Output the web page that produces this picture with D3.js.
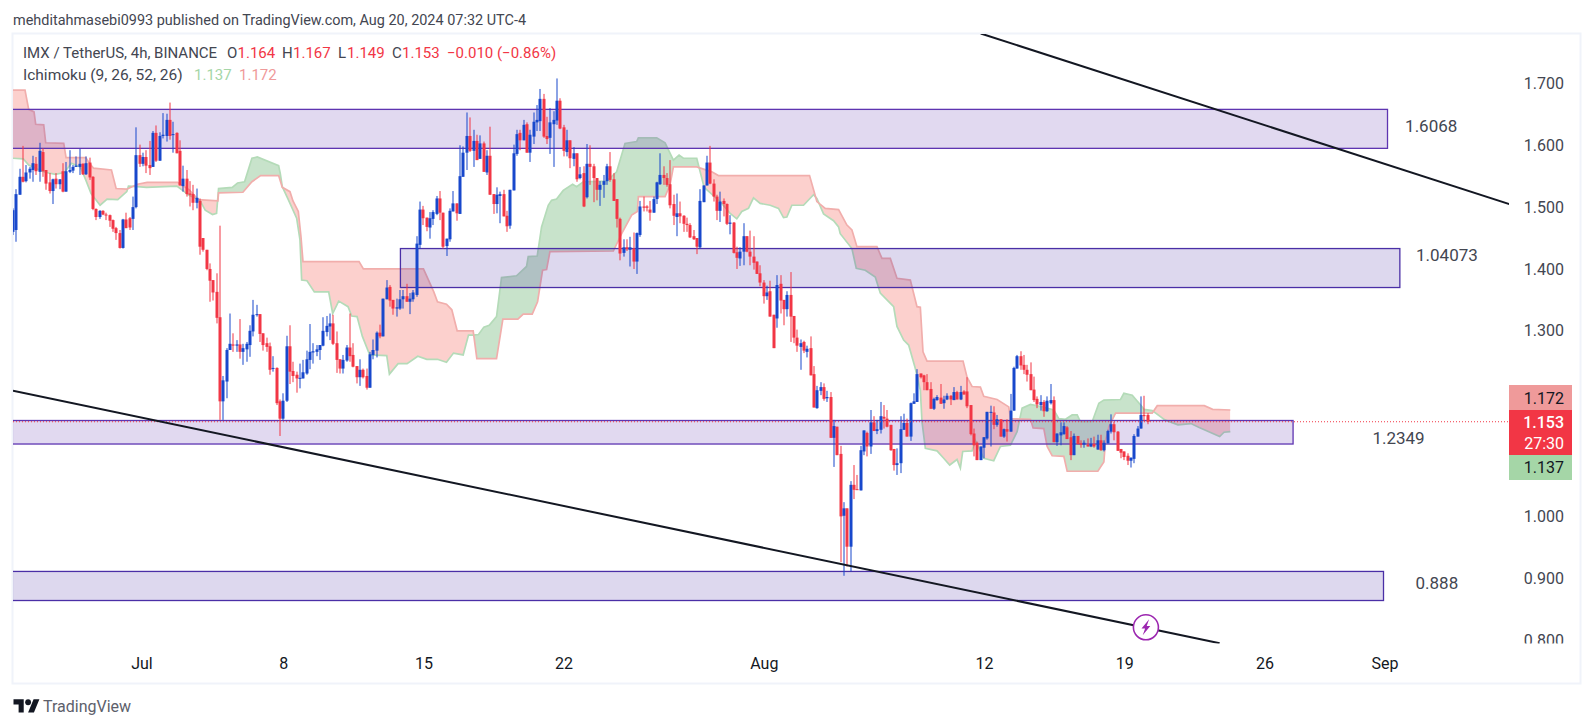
<!DOCTYPE html>
<html>
<head>
<meta charset="utf-8">
<script src="https://cdn.jsdelivr.net/npm/d3@7"></script>
<style>
  html, body { margin: 0; padding: 0; background: #fff; }
  svg { display: block; }
  text { font-family: Roboto, sans-serif; }
</style>
</head>
<body>
<div id="chart"></div>
<script>
// 4h candles, bar 0 is the leftmost one: open, high, low, close
const candles = [
  [1.460,1.498,1.455,1.495],
  [1.463,1.529,1.444,1.521],[1.520,1.562,1.520,1.549],[1.549,1.599,1.540,1.541],[1.542,1.568,1.540,1.556],
  [1.556,1.565,1.546,1.562],[1.560,1.583,1.541,1.571],[1.570,1.581,1.552,1.558],[1.557,1.604,1.541,1.591],
  [1.589,1.595,1.549,1.558],[1.560,1.560,1.528,1.538],[1.540,1.555,1.522,1.526],[1.526,1.546,1.505,1.545],
  [1.546,1.555,1.530,1.537],[1.537,1.545,1.529,1.545],[1.558,1.571,1.524,1.525],[1.525,1.573,1.525,1.558],
  [1.557,1.592,1.555,1.560],[1.559,1.568,1.555,1.565],[1.565,1.582,1.565,1.567],[1.565,1.594,1.552,1.570],
  [1.570,1.571,1.552,1.553],[1.553,1.582,1.552,1.571],[1.572,1.580,1.544,1.548],[1.549,1.550,1.495,1.497],
  [1.497,1.498,1.479,1.484],[1.484,1.495,1.481,1.494],[1.494,1.495,1.487,1.488],[1.488,1.491,1.479,1.487],
  [1.487,1.488,1.468,1.478],[1.479,1.480,1.460,1.465],[1.466,1.468,1.447,1.458],[1.458,1.463,1.433,1.434],
  [1.434,1.481,1.433,1.480],[1.480,1.491,1.466,1.466],[1.482,1.484,1.463,1.467],[1.481,1.517,1.463,1.500],
  [1.500,1.629,1.498,1.584],[1.584,1.601,1.565,1.570],[1.570,1.588,1.566,1.581],[1.581,1.592,1.555,1.567],
  [1.568,1.607,1.552,1.563],[1.565,1.623,1.565,1.620],[1.620,1.632,1.573,1.575],[1.575,1.621,1.575,1.615],
  [1.615,1.652,1.611,1.617],[1.615,1.651,1.606,1.641],[1.641,1.669,1.609,1.615],[1.617,1.638,1.588,1.618],
  [1.620,1.621,1.587,1.587],[1.591,1.608,1.535,1.535],[1.534,1.567,1.525,1.546],[1.546,1.560,1.517,1.521],
  [1.522,1.542,1.501,1.520],[1.521,1.536,1.495,1.507],[1.507,1.530,1.498,1.515],[1.510,1.514,1.423,1.436],
  [1.450,1.450,1.428,1.431],[1.431,1.431,1.398,1.400],[1.400,1.409,1.347,1.381],[1.382,1.382,1.349,1.362],
  [1.363,1.393,1.312,1.321],[1.322,1.470,1.156,1.186],[1.186,1.227,1.156,1.220],[1.218,1.272,1.191,1.269],
  [1.269,1.328,1.269,1.279],[1.278,1.296,1.266,1.276],[1.276,1.285,1.266,1.278],[1.278,1.319,1.255,1.266],
  [1.266,1.279,1.245,1.272],[1.270,1.282,1.250,1.279],[1.277,1.309,1.258,1.300],[1.299,1.350,1.291,1.326],
  [1.326,1.342,1.323,1.327],[1.327,1.327,1.282,1.295],[1.296,1.296,1.268,1.277],[1.280,1.289,1.266,1.274],
  [1.275,1.281,1.229,1.237],[1.239,1.259,1.234,1.240],[1.240,1.241,1.180,1.183],[1.186,1.189,1.130,1.158],
  [1.158,1.199,1.156,1.187],[1.187,1.292,1.185,1.275],[1.275,1.309,1.214,1.234],[1.235,1.250,1.217,1.227],
  [1.229,1.234,1.200,1.223],[1.223,1.247,1.207,1.224],[1.223,1.253,1.223,1.233],[1.231,1.268,1.229,1.254],
  [1.253,1.311,1.238,1.266],[1.265,1.280,1.247,1.267],[1.266,1.277,1.259,1.270],[1.269,1.277,1.253,1.277],
  [1.276,1.322,1.275,1.300],[1.298,1.324,1.291,1.308],[1.307,1.328,1.285,1.312],[1.312,1.326,1.277,1.279],
  [1.280,1.299,1.232,1.253],[1.254,1.254,1.231,1.239],[1.239,1.261,1.231,1.253],[1.252,1.277,1.250,1.273],
  [1.273,1.328,1.250,1.259],[1.261,1.280,1.241,1.242],[1.243,1.243,1.215,1.225],[1.225,1.254,1.211,1.237],
  [1.237,1.239,1.223,1.225],[1.227,1.239,1.205,1.208],[1.208,1.266,1.208,1.262],[1.261,1.286,1.254,1.269],
  [1.268,1.299,1.257,1.297],[1.297,1.310,1.288,1.291],[1.291,1.352,1.291,1.352],[1.351,1.382,1.351,1.370],
  [1.371,1.374,1.339,1.349],[1.350,1.350,1.326,1.336],[1.336,1.352,1.323,1.338],[1.336,1.366,1.334,1.351],
  [1.351,1.366,1.336,1.356],[1.356,1.376,1.347,1.347],[1.347,1.361,1.327,1.352],[1.351,1.366,1.347,1.362],
  [1.358,1.453,1.355,1.441],[1.439,1.509,1.433,1.496],[1.496,1.502,1.471,1.482],[1.483,1.483,1.461,1.468],
  [1.467,1.492,1.449,1.482],[1.481,1.495,1.471,1.492],[1.489,1.518,1.487,1.514],[1.514,1.526,1.479,1.491],
  [1.491,1.491,1.433,1.436],[1.437,1.449,1.421,1.449],[1.448,1.498,1.444,1.494],[1.493,1.526,1.493,1.506],
  [1.506,1.506,1.478,1.490],[1.489,1.600,1.489,1.550],[1.549,1.598,1.549,1.588],[1.588,1.653,1.560,1.615],
  [1.615,1.645,1.589,1.591],[1.591,1.625,1.565,1.607],[1.607,1.617,1.576,1.576],[1.578,1.616,1.578,1.603],
  [1.603,1.606,1.557,1.557],[1.556,1.592,1.552,1.583],[1.583,1.630,1.520,1.520],[1.521,1.521,1.489,1.505],
  [1.505,1.532,1.490,1.520],[1.518,1.525,1.474,1.521],[1.521,1.528,1.485,1.485],[1.486,1.494,1.460,1.469],
  [1.470,1.528,1.465,1.528],[1.527,1.601,1.527,1.587],[1.586,1.625,1.583,1.618],[1.620,1.625,1.592,1.608],
  [1.608,1.641,1.608,1.633],[1.634,1.637,1.588,1.588],[1.588,1.625,1.573,1.617],[1.614,1.653,1.602,1.638],
  [1.637,1.665,1.623,1.641],[1.639,1.691,1.623,1.675],[1.675,1.683,1.612,1.614],[1.615,1.646,1.602,1.610],
  [1.612,1.660,1.586,1.637],[1.634,1.655,1.565,1.641],[1.640,1.708,1.633,1.672],[1.672,1.676,1.626,1.627],
  [1.629,1.633,1.582,1.591],[1.589,1.625,1.582,1.608],[1.608,1.608,1.563,1.579],[1.578,1.597,1.566,1.587],
  [1.587,1.587,1.541,1.545],[1.547,1.565,1.545,1.553],[1.555,1.566,1.500,1.501],[1.516,1.602,1.514,1.570],
  [1.570,1.600,1.536,1.565],[1.566,1.570,1.508,1.547],[1.547,1.547,1.511,1.528],[1.528,1.542,1.502,1.536],
  [1.536,1.552,1.515,1.542],[1.542,1.570,1.536,1.566],[1.566,1.589,1.541,1.544],[1.545,1.555,1.510,1.510],
  [1.513,1.513,1.467,1.481],[1.481,1.483,1.414,1.425],[1.426,1.448,1.420,1.435],[1.435,1.448,1.429,1.432],
  [1.431,1.452,1.404,1.435],[1.433,1.459,1.400,1.412],[1.412,1.459,1.392,1.458],[1.455,1.510,1.452,1.501],
  [1.501,1.517,1.493,1.499],[1.501,1.503,1.493,1.499],[1.496,1.510,1.478,1.491],[1.491,1.517,1.491,1.513],
  [1.513,1.541,1.505,1.540],[1.537,1.587,1.536,1.552],[1.552,1.566,1.536,1.547],[1.547,1.555,1.533,1.536],
  [1.537,1.576,1.498,1.503],[1.505,1.520,1.471,1.486],[1.484,1.522,1.453,1.490],[1.490,1.509,1.474,1.485],
  [1.486,1.487,1.460,1.473],[1.473,1.483,1.460,1.471],[1.471,1.474,1.450,1.451],[1.453,1.463,1.447,1.448],
  [1.450,1.450,1.424,1.436],[1.435,1.529,1.433,1.510],[1.508,1.535,1.508,1.535],[1.535,1.583,1.535,1.572],
  [1.572,1.599,1.537,1.538],[1.538,1.545,1.509,1.517],[1.517,1.520,1.479,1.494],[1.494,1.525,1.476,1.509],
  [1.510,1.514,1.485,1.505],[1.505,1.506,1.471,1.473],[1.473,1.487,1.456,1.475],[1.475,1.476,1.425,1.426],
  [1.427,1.436,1.400,1.418],[1.417,1.435,1.405,1.428],[1.428,1.474,1.406,1.453],[1.453,1.453,1.427,1.428],
  [1.428,1.462,1.406,1.420],[1.420,1.453,1.399,1.410],[1.412,1.412,1.392,1.392],[1.393,1.406,1.372,1.378],
  [1.378,1.382,1.344,1.356],[1.356,1.373,1.350,1.362],[1.364,1.381,1.323,1.323],[1.326,1.326,1.272,1.272],
  [1.320,1.390,1.305,1.374],[1.376,1.390,1.328,1.349],[1.350,1.350,1.309,1.335],[1.335,1.364,1.323,1.358],
  [1.358,1.395,1.282,1.323],[1.324,1.324,1.280,1.289],[1.289,1.302,1.266,1.276],[1.274,1.286,1.237,1.280],
  [1.282,1.284,1.264,1.268],[1.266,1.276,1.257,1.271],[1.272,1.291,1.228,1.228],[1.230,1.243,1.176,1.176],
  [1.175,1.211,1.174,1.204],[1.203,1.217,1.196,1.209],[1.209,1.215,1.187,1.190],[1.191,1.203,1.185,1.193],
  [1.193,1.201,1.127,1.127],[1.127,1.156,1.080,1.146],[1.145,1.145,1.099,1.099],[1.101,1.114,0.926,1.000],
  [1.001,1.023,0.904,1.013],[1.013,1.013,0.919,0.951],[0.951,1.057,0.911,1.051],[1.051,1.083,1.028,1.043],
  [1.044,1.067,1.043,1.043],[1.042,1.114,1.042,1.107],[1.105,1.139,1.099,1.139],[1.135,1.137,1.097,1.113],
  [1.113,1.172,1.101,1.152],[1.152,1.162,1.138,1.138],[1.138,1.156,1.133,1.141],[1.140,1.185,1.134,1.162],
  [1.161,1.180,1.142,1.158],[1.158,1.172,1.144,1.145],[1.148,1.148,1.106,1.107],[1.109,1.109,1.074,1.083],
  [1.083,1.110,1.067,1.086],[1.086,1.162,1.070,1.141],[1.140,1.166,1.140,1.151],[1.151,1.158,1.129,1.129],
  [1.129,1.184,1.122,1.183],[1.182,1.199,1.182,1.186],[1.185,1.238,1.185,1.230],[1.231,1.231,1.223,1.225],
  [1.228,1.229,1.204,1.217],[1.217,1.230,1.204,1.204],[1.206,1.217,1.174,1.174],[1.174,1.192,1.172,1.190],
  [1.188,1.196,1.187,1.193],[1.192,1.214,1.182,1.182],[1.183,1.195,1.174,1.189],[1.189,1.199,1.188,1.195],
  [1.195,1.196,1.180,1.189],[1.188,1.209,1.188,1.201],[1.201,1.203,1.189,1.189],[1.189,1.211,1.188,1.201],
  [1.202,1.204,1.197,1.197],[1.202,1.225,1.175,1.178],[1.180,1.180,1.131,1.133],[1.134,1.142,1.097,1.115],
  [1.119,1.121,1.091,1.091],[1.091,1.113,1.091,1.113],[1.111,1.128,1.094,1.128],[1.126,1.169,1.124,1.169],
  [1.168,1.179,1.113,1.169],[1.168,1.178,1.141,1.148],[1.148,1.164,1.145,1.157],[1.157,1.157,1.129,1.129],
  [1.129,1.142,1.127,1.141],[1.141,1.157,1.121,1.137],[1.137,1.198,1.137,1.171],[1.171,1.242,1.171,1.240],
  [1.239,1.261,1.239,1.259],[1.259,1.267,1.237,1.244],[1.245,1.261,1.230,1.237],[1.237,1.245,1.218,1.229],
  [1.230,1.249,1.204,1.204],[1.205,1.226,1.185,1.188],[1.190,1.194,1.175,1.181],[1.180,1.196,1.171,1.185],
  [1.185,1.188,1.161,1.170],[1.170,1.194,1.169,1.187],[1.183,1.214,1.181,1.188],[1.188,1.194,1.120,1.120],
  [1.120,1.134,1.114,1.134],[1.131,1.152,1.115,1.136],[1.133,1.152,1.132,1.146],[1.144,1.146,1.125,1.125],
  [1.128,1.138,1.091,1.099],[1.099,1.134,1.099,1.130],[1.130,1.130,1.116,1.117],[1.118,1.123,1.111,1.116],
  [1.116,1.123,1.111,1.119],[1.116,1.126,1.113,1.113],[1.113,1.127,1.112,1.117],[1.117,1.129,1.111,1.113],
  [1.108,1.132,1.108,1.123],[1.123,1.132,1.106,1.107],[1.107,1.123,1.105,1.119],[1.118,1.140,1.118,1.138],
  [1.137,1.165,1.134,1.149],[1.149,1.153,1.123,1.136],[1.137,1.138,1.106,1.106],[1.109,1.109,1.094,1.103],
  [1.105,1.105,1.091,1.096],[1.098,1.102,1.083,1.090],[1.090,1.095,1.079,1.095],[1.093,1.133,1.086,1.130],
  [1.129,1.146,1.129,1.142],[1.142,1.194,1.142,1.164],[1.164,1.195,1.154,1.162],[1.164,1.167,1.149,1.153]
]

// ichimoku leading spans, bar and price at each turn of the line
const spanA = [
  [0,1.579],[3.1,1.578],[4.7,1.568],[7.9,1.560],[10,1.556],[12.7,1.553],[15.4,1.556],[17.5,1.571],[20.2,1.565],
  [21.8,1.544],[23.4,1.522],[26.1,1.503],[28.2,1.513],[31.4,1.512],[34.1,1.525],[34.6,1.534],[37.3,1.533],
  [40,1.532],[49.1,1.534],[52.8,1.519],[56,1.511],[57.6,1.495],[59.8,1.488],[61,1.490],[61.6,1.530],[65.7,1.532],
  [67.3,1.539],[69.4,1.541],[71.6,1.579],[73.2,1.581],[79.6,1.567],[80.1,1.554],[80.7,1.533],[82.6,1.511],
  [85,1.482],[86,1.447],[86.5,1.382],[88.1,1.381],[90.3,1.363],[94.6,1.363],[95.8,1.328],[97.6,1.348],[100.4,1.339],
  [101.5,1.324],[103.1,1.323],[104.7,1.291],[106.9,1.261],[112,1.260],[112.8,1.230],[115.4,1.247],[118.1,1.247],
  [121.3,1.259],[124,1.254],[127.2,1.254],[129.9,1.249],[132,1.264],[134.9,1.261],[136.5,1.293],[137.9,1.293],
  [139.5,1.294],[141.1,1.306],[142.7,1.309],[144.9,1.323],[146.4,1.386],[150.9,1.389],[153.9,1.404],[154.4,1.420],
  [157.1,1.421],[158.4,1.468],[160.4,1.503],[161.4,1.511],[162.9,1.513],[164.9,1.527],[167.7,1.537],[168.9,1.533],
  [170.9,1.541],[177.9,1.542],[180.9,1.557],[183.4,1.603],[186.9,1.606],[187.4,1.612],[192.9,1.612],[195.4,1.604],
  [197.9,1.576],[199.6,1.584],[200.9,1.579],[204.9,1.579],[207.1,1.532],[211.9,1.509],[214.9,1.490],[216.9,1.481],
  [218.4,1.493],[220.4,1.498],[221.9,1.515],[223.9,1.506],[226.9,1.503],[229.4,1.498],[230.9,1.483],[231.9,1.484],
  [233.4,1.503],[236.9,1.503],[239.9,1.520],[240.9,1.514],[242.9,1.489],[245.9,1.478],[247.4,1.468],[247.9,1.457],
  [251.4,1.433],[252.7,1.401],[255.4,1.398],[258.4,1.387],[259.9,1.361],[261.9,1.350],[263.9,1.339],[264.9,1.307],
  [266.9,1.285],[268.4,1.277],[270.4,1.239],[271.9,1.204],[272.4,1.153],[273.4,1.110],[276.9,1.106],[278.9,1.094],
  [280.7,1.083],[282.9,1.092],[283.9,1.078],[284.6,1.105],[287.4,1.106],[288.4,1.123],[290.9,1.094],[293.9,1.090],
  [295.9,1.113],[298.9,1.115],[300.9,1.137],[302.4,1.175],[304.9,1.181],[308.4,1.177],[311.9,1.172],[313.4,1.158],
  [315.4,1.157],[317.4,1.164],[318.9,1.164],[319.9,1.153],[323.4,1.153],[325.4,1.183],[326.9,1.188],[331.9,1.189],
  [332.9,1.199],[335.4,1.196],[337.9,1.180],[338.9,1.173],[341.4,1.171],[345.2,1.156],[349.1,1.148],[353,1.150],
  [355.3,1.144],[361.6,1.129],[362.9,1.136],[364.8,1.137]
]
const spanB = [
  [0,1.689],[3.6,1.689],[4.7,1.658],[6.3,1.654],[6.8,1.634],[9.2,1.633],[9.8,1.604],[15.2,1.603],[15.9,1.580],
  [21.8,1.580],[22.9,1.571],[24.1,1.563],[29.5,1.560],[30.9,1.530],[34.1,1.529],[37.3,1.537],[40.2,1.540],
  [49.3,1.540],[52.8,1.528],[55.5,1.512],[61.4,1.510],[61.6,1.523],[68.9,1.524],[71.6,1.541],[74.2,1.551],
  [79.6,1.551],[80.7,1.532],[83,1.525],[83.9,1.510],[85.5,1.493],[86.3,1.452],[86.9,1.412],[103.7,1.412],
  [105,1.400],[123,1.400],[126.1,1.363],[127.2,1.347],[129.9,1.343],[131.5,1.334],[133.1,1.300],[137.9,1.300],
  [139,1.255],[144.9,1.255],[146.8,1.319],[151.3,1.319],[152.9,1.327],[155.6,1.327],[157.2,1.347],[158.7,1.398],
  [159.9,1.399],[160.9,1.428],[179.9,1.429],[182.4,1.457],[184.1,1.474],[185.4,1.487],[187.1,1.493],[187.4,1.517],
  [195.4,1.517],[196.9,1.536],[197.9,1.565],[204.9,1.565],[209.4,1.557],[211.4,1.551],[238.7,1.551],[240.9,1.509],
  [243.4,1.498],[247.4,1.496],[249.9,1.471],[251.4,1.463],[252.9,1.436],[258.9,1.436],[260.4,1.417],[262.9,1.417],
  [264.9,1.385],[268.9,1.382],[270.9,1.339],[271.9,1.338],[272.7,1.266],[273.9,1.251],[284.7,1.251],[285.9,1.225],
  [287.4,1.210],[289.9,1.209],[290.9,1.194],[294.9,1.189],[298.4,1.177],[298.9,1.158],[304.9,1.157],[305.7,1.143],
  [308.9,1.142],[309.9,1.113],[311.4,1.098],[314.9,1.097],[315.9,1.073],[325.1,1.073],[326.9,1.088],[327.4,1.123],
  [328.4,1.145],[330.4,1.167],[341.4,1.167],[342.9,1.179],[357,1.179],[359.5,1.173],[364.8,1.172]
]

// rectangles drawn on the chart
const zoneHigh = [1.658, 1.433, 1.155, 0.911]
const zoneLow = [1.595, 1.370, 1.117, 0.864]
const zoneStart = [-6, 116.1, -6, -6]
const zoneEnd = [411.9, 415.6, 383.6, 410.7]
const zoneColor = ['#5e35b1', '#4a2fa6', '#5e35b1', '#4a2fa6']
const zoneText = ['1.6068', '1.04073', '1.2349', '0.888']
const zoneTextBar = [425, 429.7, 415.2, 426.7]
const zoneTextPrice = [1.631, 1.4226, 1.126, 0.892]

// trend lines, [bar, price] at both ends
const trendLines = [
  [[290, 1.7807], [448.6, 1.5046]],
  [[0, 1.2032], [361.6, 0.7949]]
]

const priceTicks = [1.7, 1.6, 1.5, 1.4, 1.3, 1.0, 0.9, 0.8]
const timeTickBars = [38.5, 81, 123, 165, 225, 291, 333, 375, 411]
const timeTickLabels = ['Jul', '8', '15', '22', 'Aug', '12', '19', '26', 'Sep']

const lastClose = 1.153
const lastSpanA = 1.137
const lastSpanB = 1.172

const RED = '#f23645'
const BLUE = '#1848cc'
const GREY = '#434651'

const W = 1594, H = 728
const PLOT = { left: 13, right: 1509, top: 34, bottom: 643.5 }

const svg = d3.select('#chart').append('svg').attr('width', W).attr('height', H)

const x = d3.scaleLinear().domain([0, 100]).range([13, 346.7])
const y = d3.scaleLinear().domain([0.8, 1.7]).range([640.1, 83.4])

const defs = svg.append('defs')
defs.append('clipPath').attr('id', 'plot').append('rect')
  .attr('x', PLOT.left).attr('y', PLOT.top)
  .attr('width', PLOT.right - PLOT.left).attr('height', PLOT.bottom - PLOT.top)

// frame
svg.append('rect')
  .attr('x', 12.5).attr('y', 33.5).attr('width', 1568).attr('height', 650)
  .attr('fill', 'none').attr('stroke', '#f0f3fa').attr('stroke-width', 2)

const plot = svg.append('g').attr('clip-path', 'url(#plot)')


// cloud: each colour is the part above one span and below the other

const below = d3.area().x((d) => x(d[0])).y0(H).y1((d) => y(d[1]))
const above = d3.area().x((d) => x(d[0])).y0(0).y1((d) => y(d[1]))

defs.append('clipPath').attr('id', 'belowA').append('path').attr('d', below(spanA))
defs.append('clipPath').attr('id', 'belowB').append('path').attr('d', below(spanB))

plot.append('g').attr('clip-path', 'url(#belowA)')
  .append('path').attr('d', above(spanB)).attr('fill', '#c8e3cb')
plot.append('g').attr('clip-path', 'url(#belowB)')
  .append('path').attr('d', above(spanA)).attr('fill', '#fcd0cd')

const spanLine = d3.line().x((d) => x(d[0])).y((d) => y(d[1]))
plot.append('path').attr('d', spanLine(spanA))
  .attr('fill', 'none').attr('stroke', '#b4dbb8').attr('stroke-width', 1.7)
plot.append('path').attr('d', spanLine(spanB))
  .attr('fill', 'none').attr('stroke', '#f1aeac').attr('stroke-width', 1.7)


// zones
zoneHigh.forEach((high, i) => {
  plot.append('rect')
    .attr('x', x(zoneStart[i])).attr('y', y(high))
    .attr('width', x(zoneEnd[i]) - x(zoneStart[i])).attr('height', y(zoneLow[i]) - y(high))
    .attr('fill', zoneColor[i]).attr('fill-opacity', 0.19)
    .attr('stroke', zoneColor[i]).attr('stroke-width', 1.3)
})


// candles
const bar = plot.append('g').selectAll('g').data(candles).join('g')
  .attr('fill', (d) => d[3] >= d[0] ? BLUE : RED)
bar.append('rect')
  .attr('x', (d, i) => Math.round(x(i)) - 0.5).attr('width', 1)
  .attr('y', (d) => y(d[1])).attr('height', (d) => y(d[2]) - y(d[1]))
bar.append('rect')
  .attr('x', (d, i) => Math.round(x(i)) - 1.5).attr('width', 3)
  .attr('y', (d) => y(Math.max(d[0], d[3])))
  .attr('height', (d) => Math.max(1, Math.abs(y(d[0]) - y(d[3]))))


// last price line
plot.append('line')
  .attr('x1', PLOT.left).attr('x2', PLOT.right)
  .attr('y1', y(lastClose)).attr('y2', y(lastClose))
  .attr('stroke', RED).attr('stroke-width', 1).attr('stroke-dasharray', '1 2')


// trend lines
plot.selectAll('.trend').data(trendLines).join('path')
  .attr('class', 'trend')
  .attr('d', spanLine)
  .attr('fill', 'none').attr('stroke', '#131722').attr('stroke-width', 2)


// zone captions
svg.append('g').selectAll('text').data(zoneText).join('text')
  .attr('x', (d, i) => x(zoneTextBar[i])).attr('y', (d, i) => y(zoneTextPrice[i]))
  .attr('dy', '0.35em').attr('text-anchor', 'middle')
  .attr('font-size', 17).attr('fill', GREY)
  .text((d) => d)


// alert mark
const mark = plot.append('g').attr('transform', 'translate(' + [x(339.5), 627.3] + ')')
mark.append('circle').attr('r', 12.5).attr('fill', '#fff').attr('stroke', '#9c27b0').attr('stroke-width', 1.6)
mark.append('path').attr('d', 'M3.2,-8L-4.4,1.2L-0.8,1.2L-3.2,8L4.4,-1.2L0.8,-1.2Z').attr('fill', '#9c27b0')


// axes
const axisRight = d3.axisRight(y).tickValues(priceTicks).tickFormat(d3.format('.3f')).tickSize(0)
defs.append('clipPath').attr('id', 'scale').append('rect')
  .attr('x', 1500).attr('y', PLOT.top).attr('width', 80).attr('height', PLOT.bottom - PLOT.top)
const priceAxis = svg.append('g').attr('clip-path', 'url(#scale)')
  .append('g').attr('transform', 'translate(1564,0)').call(axisRight)
priceAxis.select('.domain').remove()
priceAxis.selectAll('text')
  .attr('x', 0).attr('text-anchor', 'end')
  .attr('font-size', 16).attr('font-family', 'Roboto, sans-serif').attr('fill', GREY)

const axisBottom = d3.axisBottom(x).tickValues(timeTickBars)
  .tickFormat((d, i) => timeTickLabels[i]).tickSize(0)
const timeAxis = svg.append('g').attr('transform', 'translate(0,658)').call(axisBottom)
timeAxis.select('.domain').remove()
timeAxis.selectAll('text')
  .attr('y', 0).attr('dy', '0.71em')
  .attr('font-size', 16).attr('font-family', 'Roboto, sans-serif').attr('fill', '#131722')


// price tags on the scale
const TAG_LEFT = 1509, TAG_RIGHT = 1572
const tagTop = [385, 410, 455]
const tagHeight = [25, 45, 25]
const tagFill = ['#ef9a9a', RED, '#a5d6a7']
tagTop.forEach((top, i) => {
  svg.append('rect').attr('x', TAG_LEFT).attr('y', top)
    .attr('width', TAG_RIGHT - TAG_LEFT).attr('height', tagHeight[i]).attr('fill', tagFill[i])
})

function tagText(label, cy, fill, weight) {
  svg.append('text').attr('x', 1564).attr('y', cy).attr('dy', '0.35em')
    .attr('text-anchor', 'end').attr('font-size', 16).attr('font-weight', weight || 400)
    .attr('fill', fill).text(label)
}
tagText(d3.format('.3f')(lastSpanB), 398, '#131722')
tagText(d3.format('.3f')(lastClose), 422.5, '#fff', 500)
tagText('27:30', 443, '#fff')
tagText(d3.format('.3f')(lastSpanA), 467.5, '#131722')


// header and legend
svg.append('text').attr('x', 13).attr('y', 20).attr('dy', '0.35em')
  .attr('font-size', 14.45).attr('fill', GREY)
  .text('mehditahmasebi0993 published on TradingView.com, Aug 20, 2024 07:32 UTC-4')

const legend = [
  ['IMX / TetherUS, 4h, BINANCE', 23, 53, GREY],
  ['O', 227, 53, GREY], ['1.164', 237.5, 53, RED],
  ['H', 282, 53, GREY], ['1.167', 293, 53, RED],
  ['L', 338, 53, GREY], ['1.149', 347, 53, RED],
  ['C', 392, 53, GREY], ['1.153', 402, 53, RED],
  ['\u22120.010 (\u22120.86%)', 447, 53, RED],
  ['Ichimoku (9, 26, 52, 26)', 23, 75, GREY],
  ['1.137', 194, 75, '#a5d6a7'],
  ['1.172', 239, 75, '#ef9a9a']
]
svg.append('g').selectAll('text').data(legend).join('text')
  .attr('x', (d) => d[1]).attr('y', (d) => d[2]).attr('dy', '0.35em')
  .attr('font-size', (d) => d[0].startsWith('Ichimoku') ? 15.5 : 15).attr('fill', (d) => d[3])
  .text((d) => d[0])


// logo
const logo = svg.append('g').attr('transform', 'translate(13.5,696.4) scale(0.73)').attr('fill', '#131722')
logo.append('path').attr('d', 'M14 22H7V11H0V4h14v18zM28 22h-8l7.5-18h8L28 22z')
logo.append('circle').attr('cx', 20).attr('cy', 8).attr('r', 4)
svg.append('text').attr('x', 43).attr('y', 706).attr('dy', '0.35em')
  .attr('font-size', 16).attr('fill', '#5d606b').text('TradingView')
</script>
</body>
</html>
